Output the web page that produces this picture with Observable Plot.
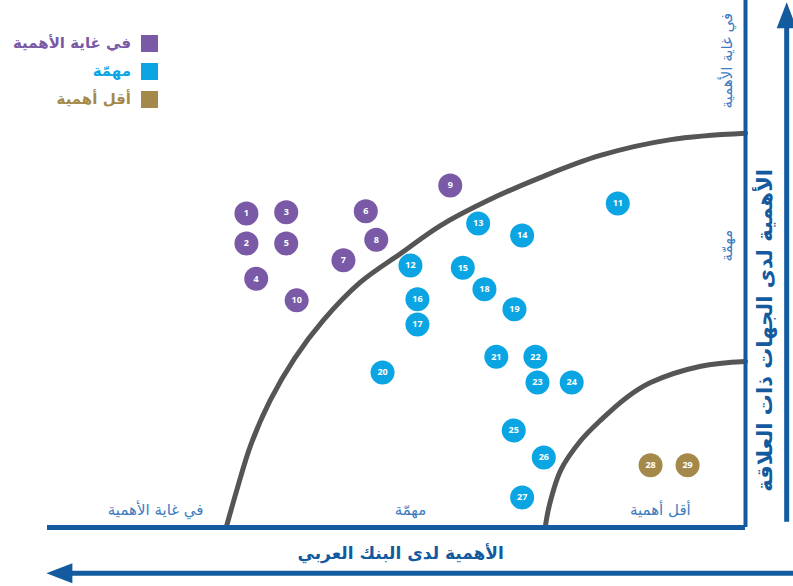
<!DOCTYPE html>
<html>
<head>
<meta charset="utf-8">
<script src="https://cdn.jsdelivr.net/npm/d3@7"></script>
<script src="https://cdn.jsdelivr.net/npm/@observablehq/plot@0.6"></script>
<style>
  body { margin: 0; background: #fff; }
  #wrap { position: relative; width: 793px; height: 586px; }
  #legend { position: absolute; top: 29px; right: 635px; direction: rtl; font-family: "DejaVu Sans", sans-serif; font-weight: bold; font-size: 15px; }
  #legend .row { display: flex; align-items: center; height: 28px; gap: 10px; white-space: nowrap; }
  #legend .sw { width: 17px; height: 17px; flex: none; }
</style>
</head>
<body>
<div id="wrap"><div id="legend"></div></div>
<script>
// ---- data ----
const ids = [1,2,3,4,5,6,7,8,9,10,11,12,13,14,15,16,17,18,19,20,21,22,23,24,25,26,27,28,29];
// importance to the bank (x, higher = further left)
const bankImportance = [7.15,7.15,6.58,7.01,6.58,5.44,5.76,5.29,4.23,6.43,
                        1.83,4.80,3.83,3.20,4.05,4.70,4.70,3.74,3.31,5.20,
                        3.57,3.01,2.98,2.49,3.32,2.89,3.20,1.36,0.83];
// importance to stakeholders (y)
const stakeholderImportance = [5.96,5.39,5.98,4.72,5.39,6.00,5.07,5.46,6.49,4.31,
                               6.15,4.97,5.77,5.54,4.93,4.33,3.85,4.52,4.14,2.94,
                               3.24,3.24,2.75,2.75,1.84,1.33,0.57,1.18,1.18];
const categoryOf = [0,0,0,0,0,0,0,0,0,0, 1,1,1,1,1,1,1,1,1,1, 1,1,1,1,1,1,1, 2,2];
const categoryNames = ["في غاية الأهمية", "مهمّة", "أقل أهمية"];
const categoryColors = ["#7a59a6", "#0ba5e3", "#a5894a"];

// zone boundaries [bank, stakeholder]
const outerBoundary = [[7.44,0],[7.29,0.70],[7.09,1.56],[6.81,2.41],[6.46,3.21],[6.05,3.93],[5.52,4.65],
                       [4.94,5.20],[4.37,5.73],[3.70,6.20],[2.94,6.64],[2.08,7.06],[1.07,7.36],[0,7.48]];
const innerBoundary = [[2.87,0],[2.81,0.42],[2.65,1.08],[2.36,1.65],[2.08,2.03],[1.72,2.45],[1.36,2.75],[0.64,3.06],[0,3.15]];

// zone labels along the axes
const zoneLabels = ["في غاية الأهمية", "مهمّة", "أقل أهمية"];
const zoneBankPos = [8.45, 4.80, 1.22];
const zoneStakePos = [8.86, 5.35];

const xTitle = "الأهمية لدى البنك العربي";
const yTitle = "الأهمية لدى الجهات ذات العلاقة";

// ---- build ----
const navy = "#135a9e";
const zoneColor = "#3d7cbf";
const points = ids.map((id, i) => ({id, x: bankImportance[i], y: stakeholderImportance[i], cat: categoryNames[categoryOf[i]]}));
const bottomZones = zoneLabels.map((t, i) => ({t, x: zoneBankPos[i]}));
const sideZones = zoneStakePos.map((y, i) => ({t: zoneLabels[i], y}));

const arrowHead = {draw(ctx) { ctx.moveTo(0, -13); ctx.lineTo(10, 13); ctx.lineTo(-10, 13); ctx.closePath(); }};
const xArrow = {y: -0.87, from: -0.69, to: 9.74, head: 9.83};
const yArrow = {x: -0.59, from: 0.11, to: 9.6, head: 9.72};

const chart = Plot.plot({
  width: 793, height: 586,
  marginLeft: 47, marginRight: 48, marginTop: 0, marginBottom: 59,
  x: {domain: [10, 0], axis: null},
  y: {domain: [0, 10], axis: null},
  color: {domain: categoryNames, range: categoryColors},
  style: {background: "#fff", overflow: "visible"},
  marks: [
    Plot.line(outerBoundary, {x: d => d[0], y: d => d[1], curve: "catmull-rom", stroke: "#555", strokeWidth: 5}),
    Plot.line(innerBoundary, {x: d => d[0], y: d => d[1], curve: "catmull-rom", stroke: "#555", strokeWidth: 5}),
    Plot.ruleY([0], {stroke: navy, strokeWidth: 5}),
    Plot.ruleX([0], {stroke: navy, strokeWidth: 4}),
    Plot.text(bottomZones, {x: "x", y: 0.32, text: "t", fill: zoneColor, fontSize: 15, fontFamily: "DejaVu Sans"}),
    Plot.text(sideZones, {x: 0.26, y: "y", text: "t", rotate: -90, fill: zoneColor, fontSize: 15, fontFamily: "DejaVu Sans"}),
    Plot.dot(points, {x: "x", y: "y", r: 12, fill: "cat"}),
    Plot.text(points, {x: "x", y: "y", text: "id", fill: "white", fontSize: 9, fontWeight: "bold", fontFamily: "Open Sans"}),
    // axis titles and arrows
    Plot.text([xTitle], {x: 4.94, y: -0.49, text: d => d, fill: navy, fontSize: 17, fontWeight: "bold", fontFamily: "DejaVu Sans"}),
    Plot.text([yTitle], {x: -0.29, y: 3.74, text: d => d, rotate: -90, fill: navy, fontSize: 21, fontWeight: "bold", fontFamily: "DejaVu Sans"}),
    Plot.link([xArrow], {x1: "from", x2: "to", y1: "y", y2: "y", stroke: navy, strokeWidth: 5}),
    Plot.dot([xArrow], {x: "head", y: "y", symbol: arrowHead, r: 10, fill: navy, rotate: -90}),
    Plot.link([yArrow], {x1: "x", x2: "x", y1: "from", y2: "to", stroke: navy, strokeWidth: 5}),
    Plot.dot([yArrow], {x: "x", y: "head", symbol: arrowHead, r: 10, fill: navy})
  ]
});
document.getElementById("wrap").prepend(chart);

const legend = document.getElementById("legend");
categoryNames.forEach((name, i) => {
  const row = document.createElement("div");
  row.className = "row";
  row.innerHTML = `<span class="sw" style="background:${categoryColors[i]}"></span><span style="color:${categoryColors[i]}">${name}</span>`;
  legend.appendChild(row);
});
</script>
</body>
</html>
